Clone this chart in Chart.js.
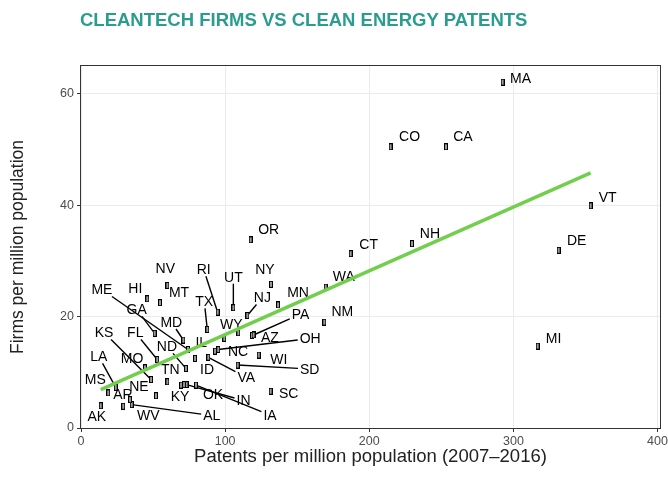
<!DOCTYPE html>
<html>
<head>
<meta charset="utf-8">
<script src="https://cdn.jsdelivr.net/npm/chart.js@4.4.1/dist/chart.umd.min.js"></script>
<style>
  html, body { margin: 0; background: #fff; }
</style>
</head>
<body>
<canvas id="chart" width="668" height="495"></canvas>
<script>
const states  = ['AK','AL','AR','AZ','CA','CO','CT','DE','FL','GA','HI','IA','ID','IL','IN','KS','KY','LA','MA','MD',
                 'ME','MI','MN','MO','MS','MT','NC','ND','NE','NH','NJ','NM','NV','NY','OH','OK','OR','PA','RI','SC',
                 'SD','TN','TX','UT','VA','VT','WA','WI','WV','WY'];
const patents = [13.7, 35.2, 34.0, 118.6, 253.2, 214.8, 187.1, 331.4, 52.9, 51.1, 46.0, 79.8, 79.1, 99.4, 73.2, 48.6, 69.4, 24.1, 292.5, 71.0,
                 74.2, 316.8, 136.7, 44.4, 18.9, 54.8, 93.0, 72.8, 52.0, 229.6, 115.4, 168.8, 59.9, 131.8, 95.2, 71.5, 117.7, 119.7, 94.8, 131.6,
                 108.7, 59.9, 87.6, 105.7, 88.3, 353.6, 169.8, 123.3, 29.3, 109.1];
const firms   = [4.0, 4.2, 5.1, 16.6, 50.5, 50.5, 31.3, 31.9, 12.3, 17.0, 23.2, 7.7, 12.5, 16.1, 7.8, 8.7, 7.7, 7.3, 62.1, 15.8,
                 14.1, 14.7, 22.1, 10.8, 6.3, 22.5, 13.8, 10.7, 5.8, 33.1, 20.2, 19.0, 25.6, 25.8, 14.1, 7.8, 33.8, 16.7, 20.8, 6.6,
                 11.3, 8.3, 17.7, 21.6, 12.7, 39.9, 25.3, 13.1, 3.9, 17.1];

// fitted trend line
const fitX = [13.7, 353.6];
const fitY = [6.9, 45.8];

const xTicks = [0, 100, 200, 300, 400];
const yTicks = [0, 20, 40, 60];

// label placement: pixel offset from the point, 1 = leader line
const labelOffsets = [
  [-4,10,0],[80,11,1],[-7,-5,0],[18,2,0],[17,-11,0],[19,-11,0],[18,-10,0],[18,-10,0],[-22,-27,1],[-18,-24,1],
  [-12,-11,0],[74,30,1],[12,11,0],[-23,4,0],[57,16,1],[-47,-47,1],[-1,11,0],[-17,-31,1],[18,-4,0],[-12,-18,1],
  [-86,-60,1],[16,-8,0],[20,-13,0],[-13,-10,0],[-13,-14,0],[19,-11,0],[23,0,0],[-19,-22,1],[-17,-10,0],[18,-11,0],
  [15,-18,1],[18,-11,0],[-2,-17,0],[-6,-15,0],[92,-11,1],[29,10,0],[18,-11,0],[47,-21,1],[-14,-43,1],[18,2,0],
  [72,4,1],[3,-13,0],[-3,-28,1],[0,-31,1],[38,20,1],[17,-9,0],[18,-11,0],[20,4,0],[25,9,0],[-7,-9,0]
];

const FONT = '"Liberation Sans", Arial, Helvetica, sans-serif';

// little outlined box used for every point
const marker = document.createElement('canvas');
marker.width = 4;
marker.height = 7;
const mctx = marker.getContext('2d');
mctx.fillStyle = '#000';
mctx.fillRect(0, 0, 4, 7);
mctx.fillStyle = '#9a9a9a';
mctx.fillRect(1, 1, 2, 5);

const stateLabels = {
  id: 'stateLabels',
  beforeDatasetsDraw(chart) {
    const {ctx, scales: {x, y}} = chart;
    ctx.save();
    ctx.font = '14px ' + FONT;
    ctx.textAlign = 'center';
    ctx.textBaseline = 'middle';
    ctx.strokeStyle = '#000';
    ctx.lineWidth = 1.4;
    states.forEach((s, i) => {
      const px = x.getPixelForValue(patents[i]);
      const py = y.getPixelForValue(firms[i]);
      const [dx, dy, line] = labelOffsets[i];
      const lx = px + dx, ly = py + dy;
      if (line) {
        const hw = ctx.measureText(s).width / 2 + 2;
        const hh = 7;
        const vx = px - lx, vy = py - ly;
        const k = Math.min(vx ? hw / Math.abs(vx) : Infinity, vy ? hh / Math.abs(vy) : Infinity);
        if (k < 1) {
          ctx.beginPath();
          ctx.moveTo(px, py);
          ctx.lineTo(lx + vx * k, ly + vy * k);
          ctx.stroke();
        }
      }
      ctx.fillStyle = '#000';
      ctx.fillText(s, lx, ly + 1);
    });
    ctx.restore();
  }
};

const frameAndTitle = {
  id: 'frameAndTitle',
  afterDraw(chart) {
    const {ctx, chartArea: a} = chart;
    ctx.save();
    ctx.strokeStyle = '#333';
    ctx.lineWidth = 1;
    ctx.strokeRect(Math.round(a.left) - 0.5, Math.round(a.top) - 0.5, Math.round(a.right - a.left) + 1, Math.round(a.bottom - a.top) + 1);
    ctx.fillStyle = '#2A9D8F';
    ctx.font = 'bold 18.5px ' + FONT;
    ctx.textAlign = 'left';
    ctx.textBaseline = 'alphabetic';
    ctx.fillText('CLEANTECH FIRMS VS CLEAN ENERGY PATENTS', 80, 26);
    ctx.restore();
  }
};

new Chart(document.getElementById('chart'), {
  type: 'scatter',
  data: {
    datasets: [
      {
        type: 'scatter',
        data: states.map((s, i) => ({x: patents[i], y: firms[i]})),
        pointStyle: marker,
        pointRadius: 3,
        order: 2
      },
      {
        type: 'line',
        data: fitX.map((v, i) => ({x: v, y: fitY[i]})),
        borderColor: '#72CF4E',
        borderWidth: 3.5,
        pointRadius: 0,
        fill: false,
        order: 1
      }
    ]
  },
  options: {
    responsive: false,
    animation: false,
    layout: { padding: { top: 66, right: 8, left: 0, bottom: 0 } },
    plugins: {
      legend: { display: false },
      tooltip: { enabled: false }
    },
    scales: {
      x: {
        type: 'linear',
        min: 0,
        max: 401.7,
        afterBuildTicks: s => { s.ticks = xTicks.map(v => ({value: v})); },
        afterFit: s => { s.height = 67; s.paddingLeft = 0; s.paddingRight = 0; },
        border: { display: false },
        grid: { color: '#EBEBEB', lineWidth: 1, tickColor: '#333', tickLength: 4 },
        ticks: { color: '#4D4D4D', font: { family: FONT, size: 12.5 }, padding: 2, maxRotation: 0 },
        title: {
          display: true,
          text: 'Patents per million population (2007–2016)',
          color: '#222',
          font: { family: FONT, size: 18.5 },
          padding: { top: 0, bottom: 27 }
        }
      },
      y: {
        type: 'linear',
        min: 0,
        max: 65,
        afterBuildTicks: s => { s.ticks = yTicks.map(v => ({value: v})); },
        afterFit: s => { s.width = 81; s.paddingTop = 0; s.paddingBottom = 0; },
        border: { display: false },
        grid: { color: '#EBEBEB', lineWidth: 1, tickColor: '#333', tickLength: 4 },
        ticks: { color: '#4D4D4D', font: { family: FONT, size: 12.5 }, padding: 3 },
        title: {
          display: true,
          text: 'Firms per million population',
          color: '#222',
          font: { family: FONT, size: 17.5 },
          padding: { top: 8, bottom: 0 }
        }
      }
    }
  },
  plugins: [stateLabels, frameAndTitle]
});
</script>
</body>
</html>
